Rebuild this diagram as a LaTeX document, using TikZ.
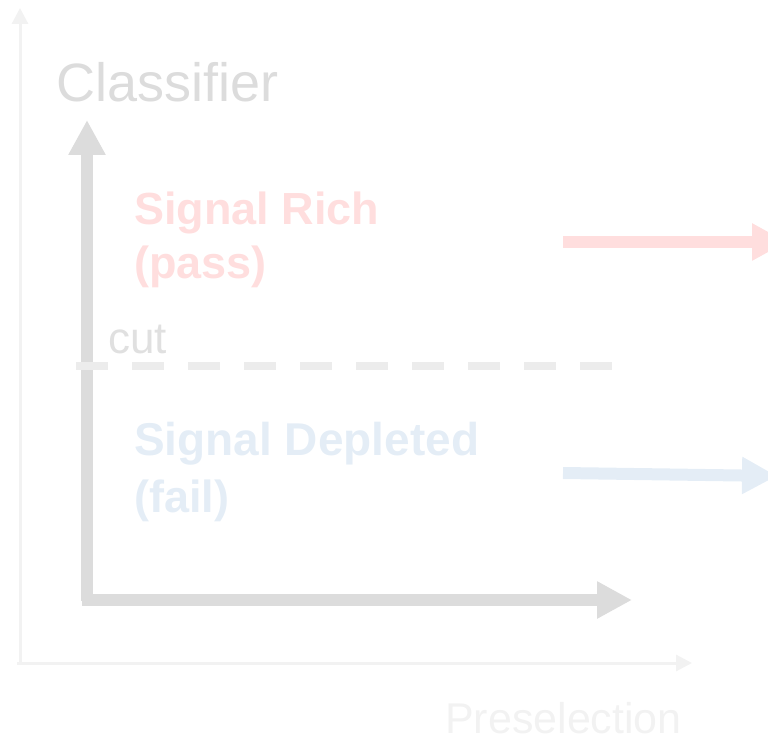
\documentclass[tikz,border=0pt]{standalone}
\usepackage{fontspec}
\setmainfont{Liberation Sans}
\usetikzlibrary{arrows.meta}

\definecolor{axisfaint}{HTML}{F2F2F2}
\definecolor{axisgray}{HTML}{DCDCDC}
\definecolor{cutgray}{HTML}{ECECEC}
\definecolor{cuttext}{HTML}{E0E0E0}
\definecolor{passpink}{HTML}{FFDEDE}
\definecolor{failblue}{HTML}{E4EDF6}

\tikzset{
  lbl/.style={inner sep=0pt, anchor=base west},
  thinaxis/.style={draw=axisfaint, line width=3pt, -{Triangle[width=16pt,length=16pt]}},
  fatarrow/.style={line width=12pt, -{Triangle[width=35pt,length=35pt]}},
  cutline/.style={draw=cutgray, line width=8pt, dash pattern=on 32pt off 24pt},
}

\begin{document}
\begin{tikzpicture}[x=1pt,y=-1pt]
  \useasboundingbox (0,0) rectangle (768,743);
  \clip (0,0) rectangle (768,743);

  % outer (faint) axes
  \coordinate (o0) at (20,663);
  \coordinate (ytop0) at (20,8);
  \coordinate (xstart0) at (17,663);
  \coordinate (xend0) at (692,663);
  \draw[thinaxis] (o0) -- (ytop0);
  \draw[thinaxis] (xstart0) -- (xend0);

  % inner axes
  \coordinate (ybot) at (87,601);
  \coordinate (ytop) at (87,120);
  \coordinate (xstart) at (82,600);
  \coordinate (xend) at (632,600);
  \draw[fatarrow, draw=axisgray, fill=axisgray] (ybot) -- (ytop);
  \draw[fatarrow, draw=axisgray, fill=axisgray] (xstart) -- (xend);

  % cut threshold
  \coordinate (cutL) at (76,366);
  \coordinate (cutR) at (612,366);
  \draw[cutline] (cutL) -- (cutR);
  \node[lbl, text=cuttext, font=\fontsize{44}{44}\selectfont] (cut) at (108,353) {cut};

  % axis titles
  \node[lbl, text=axisgray, font=\fontsize{54}{54}\selectfont] (ylab) at (56,102) {Classifier};
  \node[lbl, text=axisfaint, text depth=0pt, font=\fontsize{43}{43}\selectfont] (xlab) at (445,733) {Preselection};

  % regions
  \node[lbl, text=passpink, font=\bfseries\fontsize{45}{45}\selectfont] (rich1) at (134,225) {Signal Rich};
  \node[lbl, text=passpink, font=\bfseries\fontsize{45}{45}\selectfont] (rich2) at (134,279) {(pass)};
  \node[lbl, text=failblue, font=\bfseries\fontsize{46}{46}\selectfont] (dep1) at (134,455) {Signal Depleted};
  \node[lbl, text=failblue, font=\bfseries\fontsize{45}{45}\selectfont] (dep2) at (134,512) {(fail)};

  % outgoing flows
  \coordinate (passS) at (563,242);
  \coordinate (passE) at (787,242);
  \coordinate (failS) at (563,473);
  \coordinate (failE) at (777,476);
  \draw[fatarrow, draw=passpink, fill=passpink] (passS) -- (passE);
  \draw[fatarrow, draw=failblue, fill=failblue] (failS) -- (failE);
\end{tikzpicture}
\end{document}
